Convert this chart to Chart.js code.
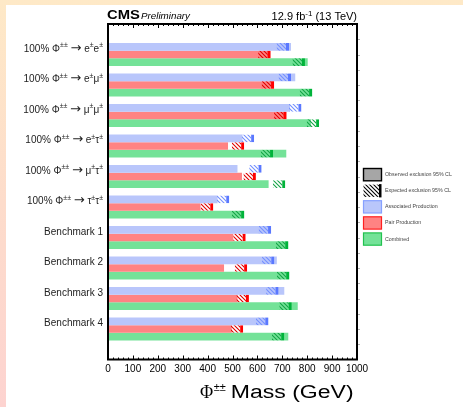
<!DOCTYPE html>
<html>
<head>
<meta charset="utf-8">
<script src="https://cdn.jsdelivr.net/npm/chart.js@4.4.1/dist/chart.umd.min.js"></script>
<style>
  html, body { margin: 0; padding: 0; }
  body {
    width: 463px; height: 407px; overflow: hidden; position: relative;
    background: linear-gradient(to bottom, #fee9c7 0%, #fddccb 50%, #fdd3d0 100%);
  }
  #panel { position: absolute; left: 6px; top: 5px; width: 457px; height: 402px; background: #fff; }
  canvas { display: block; }
</style>
</head>
<body>
<div id="panel"><canvas id="limits" width="457" height="402"></canvas></div>
<script>
// channels, top to bottom (^{..} = superscript)
const channels = [
  '100% Φ^{±±} → e^{±}e^{±}',
  '100% Φ^{±±} → e^{±}μ^{±}',
  '100% Φ^{±±} → μ^{±}μ^{±}',
  '100% Φ^{±±} → e^{±}τ^{±}',
  '100% Φ^{±±} → μ^{±}τ^{±}',
  '100% Φ^{±±} → τ^{±}τ^{±}',
  'Benchmark 1',
  'Benchmark 2',
  'Benchmark 3',
  'Benchmark 4'
];

// 95% CL mass limits in GeV
const assocObserved = [735, 752, 731, 540, 520, 440, 655, 678, 708, 644];
const assocExpected = [727, 735, 777, 587, 617, 487, 655, 668, 685, 644];
const pairObserved  = [653, 667, 717, 482, 538, 372, 503, 466, 520, 497];
const pairExpected  = [653, 667, 717, 547, 594, 423, 553, 559, 566, 543];
const combObserved  = [802, 820, 815, 716, 645, 547, 724, 728, 762, 724];
const combExpected  = [791, 820, 848, 663, 712, 547, 724, 728, 738, 708];

const massTicks = [0, 100, 200, 300, 400, 500, 600, 700, 800, 900, 1000];

// width of the hatched expected marker (GeV)
const EXP_BAND = 50;

const SANS = "'Liberation Sans', Arial, Helvetica, sans-serif";
const SERIF = "'Liberation Serif', 'Times New Roman', serif";
const ARROW = "'DejaVu Sans', sans-serif";

const colors = {
    assoc: { fill: '#b9c6fb', line: '#5a78ff', hatch: '#7490ff', edge: '#86a0ff' },
    pair:  { fill: '#ff8383', line: '#ff0000', hatch: '#e00000', edge: '#ff2020' },
    comb:  { fill: '#74e298', line: '#00b33a', hatch: '#14a446', edge: '#22c24f' }
};

const ctx = document.getElementById('limits').getContext('2d');

function hatch(color) {
    const c = document.createElement('canvas');
    c.width = 4; c.height = 4;
    const g = c.getContext('2d');
    g.strokeStyle = color;
    g.lineWidth = 1.1;
    g.beginPath();
    g.moveTo(-1, -1); g.lineTo(5, 5);
    g.moveTo(-1, 3); g.lineTo(1, 5);
    g.moveTo(3, -1); g.lineTo(5, 1);
    g.stroke();
    return ctx.createPattern(c, 'repeat');
}

const filled = (vals) => vals.map((v, i) => ({ x: v, y: i }));
const band = (vals) => vals.map((v, i) => ({ x: [v - EXP_BAND, v], y: i }));

function expectedSet(label, stack, vals, col) {
    return {
        label: label, stack: stack, order: 1, data: band(vals),
        backgroundColor: hatch(col.hatch), borderColor: col.line,
        borderWidth: { top: 0, right: 3, bottom: 0, left: 0 }, borderSkipped: false
    };
}
function observedSet(label, stack, vals, col) {
    return {
        label: label, stack: stack, order: 2, data: filled(vals),
        backgroundColor: col.fill, borderWidth: 0
    };
}

// split 'a^{b}c' into pieces, arrows get their own piece
function pieces(str) {
    const out = [];
    const push = (t, sup) => {
        t.split(/(→)/).forEach(s => {
            if (s) out.push({ t: s, sup: sup, arrow: s === '→' });
        });
    };
    const re = /\^\{([^}]*)\}/g;
    let last = 0, m;
    while ((m = re.exec(str)) !== null) {
        if (m.index > last) push(str.slice(last, m.index), false);
        push(m[1], true);
        last = re.lastIndex;
    }
    if (last < str.length) push(str.slice(last), false);
    return out;
}

function fontFor(p, size) {
    if (p.arrow) return Math.round(size * 1.25) + 'px ' + ARROW;
    return (p.sup ? Math.round(size * 0.7) : size) + 'px ' + SANS;
}

function drawRich(c, str, xRight, y, size) {
    const parts = pieces(str);
    let w = 0;
    parts.forEach(p => {
        c.font = fontFor(p, size);
        p.w = c.measureText(p.t).width;
        w += p.w;
    });
    let x = xRight - w;
    parts.forEach(p => {
        c.font = fontFor(p, size);
        c.fillText(p.t, x, p.sup ? y - 3.5 : (p.arrow ? y - 0.5 : y));
        x += p.w;
    });
}

const decorations = {
    id: 'decorations',
    afterDraw(chart) {
        const c = chart.ctx;
        const a = chart.chartArea;
        const xs = chart.scales.x;
        const ys = chart.scales.y;
        c.save();

        // frame
        c.strokeStyle = '#000';
        c.lineWidth = 2;
        c.strokeRect(a.left, a.top, a.right - a.left, a.bottom - a.top);

        // inner tick marks top and bottom
        c.lineWidth = 1;
        c.beginPath();
        for (let v = 0; v <= 1000; v += 20) {
            const px = Math.round(xs.getPixelForValue(v)) + 0.5;
            const len = v % 100 === 0 ? 4 : 2;
            c.moveTo(px, a.top); c.lineTo(px, a.top + len);
            c.moveTo(px, a.bottom); c.lineTo(px, a.bottom - len);
        }
        c.stroke();

        // faint ticks outside the right edge
        c.strokeStyle = '#b4b4b4';
        c.beginPath();
        for (let v = -0.5; v <= 9.5; v += 0.5) {
            const py = Math.round(ys.getPixelForValue(v)) + 0.5;
            c.moveTo(a.right + 1, py); c.lineTo(a.right + 3, py);
        }
        c.stroke();

        // channel labels
        c.fillStyle = '#222';
        c.textBaseline = 'middle';
        c.textAlign = 'left';
        channels.forEach((name, i) => {
            drawRich(c, name, a.left - 5, ys.getPixelForValue(i) - 5.5, 10);
        });

        // header
        c.textBaseline = 'alphabetic';
        c.fillStyle = '#000';
        c.font = 'bold 13px ' + SANS;
        c.save();
        c.translate(a.left - 1, 14);
        c.scale(1.14, 1);
        c.fillText('CMS', 0, 0);
        c.restore();
        c.font = 'italic 9.8px ' + SANS;
        c.fillText('Preliminary', a.left + 33, 14);
        drawRich(c, '12.9 fb^{-1} (13 TeV)', a.right, 14.5, 11);

        // x axis title
        const base = 392.5;
        c.font = '18px ' + SERIF;
        const phiX = 194;
        c.fillText('Φ', phiX, base);
        const phiW = c.measureText('Φ').width;
        c.font = '11px ' + SANS;
        c.fillText('±±', phiX + phiW + 0.5, base - 7);
        c.font = "18px Arial, 'Liberation Sans', sans-serif";
        c.save();
        c.translate(224.7, base);
        c.scale(1.28, 1);
        c.fillText('Mass (GeV)', 0, 0);
        c.restore();

        // legend
        const lx = 357.5, lw = 18, lh = 12.3;
        const entries = [
            { text: 'Observed exclusion 95% CL', kind: 'obs' },
            { text: 'Expected exclusion 95% CL', kind: 'exp' },
            { text: 'Associated Production', col: colors.assoc },
            { text: 'Pair Production', col: colors.pair },
            { text: 'Combined', col: colors.comb }
        ];
        entries.forEach((e, i) => {
            const ty = 163.5 + i * 16.1;
            if (e.kind === 'obs') {
                c.fillStyle = '#a6a6a6';
                c.fillRect(lx, ty, lw, lh);
                c.strokeStyle = '#000'; c.lineWidth = 1.4;
                c.strokeRect(lx, ty, lw, lh);
            } else if (e.kind === 'exp') {
                c.fillStyle = '#fff';
                c.fillRect(lx, ty, lw, lh);
                c.fillStyle = hatch('#000');
                c.fillRect(lx, ty, lw - 2.5, lh);
                c.fillStyle = '#000';
                c.fillRect(lx + lw - 2.5, ty - 0.5, 2.5, lh + 1);
            } else {
                c.fillStyle = e.col.fill;
                c.fillRect(lx, ty, lw, lh);
                c.strokeStyle = e.col.edge; c.lineWidth = 1.2;
                c.strokeRect(lx, ty, lw, lh);
            }
            c.fillStyle = '#444';
            c.font = '5.3px ' + SANS;
            c.textBaseline = 'middle';
            c.fillText(e.text, 379, ty + lh / 2);
        });

        c.restore();
    }
};

new Chart(ctx, {
    type: 'bar',
    data: {
        datasets: [
            expectedSet('Associated Production (expected)', 'assoc', assocExpected, colors.assoc),
            expectedSet('Pair Production (expected)', 'pair', pairExpected, colors.pair),
            expectedSet('Combined (expected)', 'comb', combExpected, colors.comb),
            observedSet('Associated Production', 'assoc', assocObserved, colors.assoc),
            observedSet('Pair Production', 'pair', pairObserved, colors.pair),
            observedSet('Combined', 'comb', combObserved, colors.comb)
        ]
    },
    options: {
        indexAxis: 'y',
        responsive: false,
        animation: false,
        categoryPercentage: 0.754,
        barPercentage: 1.0,
        layout: { padding: { top: 19, right: 106, left: 0, bottom: 0 } },
        plugins: {
            legend: { display: false },
            tooltip: { enabled: false }
        },
        scales: {
            x: {
                type: 'linear',
                min: 0,
                max: 1000,
                stacked: false,
                grid: { display: false, drawTicks: false },
                border: { display: false },
                afterBuildTicks: (s) => { s.ticks = massTicks.map(v => ({ value: v })); },
                ticks: {
                    autoSkip: false,
                    maxRotation: 0,
                    padding: 4,
                    color: '#000',
                    font: { family: SANS, size: 10 },
                    callback: (v) => String(v)
                },
                afterFit: (s) => { s.height = 47.5; }
            },
            y: {
                type: 'linear',
                min: -1,
                max: 10,
                reverse: true,
                stacked: true,
                offset: false,
                grid: { display: false, drawTicks: false, offset: false },
                border: { display: false },
                ticks: { display: false, stepSize: 1 },
                afterFit: (s) => { s.width = 102; }
            }
        }
    },
    plugins: [decorations]
});
</script>
</body>
</html>
